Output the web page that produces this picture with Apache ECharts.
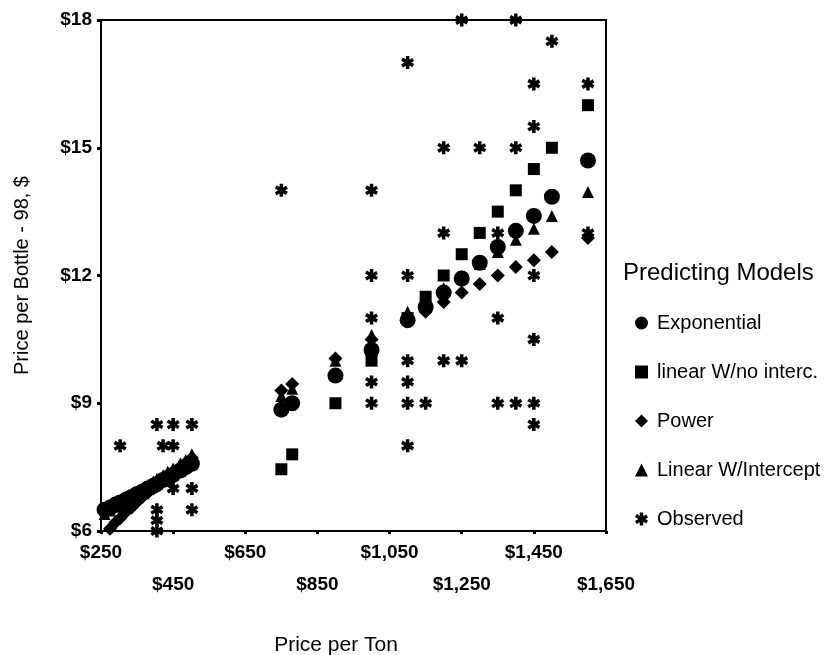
<!DOCTYPE html>
<html>
<head>
<meta charset="utf-8">
<script src="https://cdn.jsdelivr.net/npm/echarts@6/dist/echarts.min.js"></script>
<style>html,body{margin:0;padding:0;background:#fff;}#c{width:826px;height:655px;}</style>
</head>
<body>
<div id="c"></div>
<script>
// ---- data ----
const xTicks = [250, 450, 650, 850, 1050, 1250, 1450, 1650];
const yTicks = [6, 9, 12, 15, 18];

const modelX = [260, 275, 290, 303, 320, 335, 350, 365, 380, 395, 405, 422, 435, 450, 470, 485, 502,
  750, 780, 900, 1000, 1100, 1150, 1200, 1250, 1300, 1350, 1400, 1450, 1500, 1600];
const expY = [6.5, 6.55, 6.62, 6.67, 6.74, 6.8, 6.87, 6.93, 7.0, 7.06, 7.1, 7.2, 7.25, 7.32, 7.42, 7.5, 7.58,
  8.85, 9.0, 9.65, 10.25, 10.95, 11.26, 11.6, 11.93, 12.3, 12.67, 13.05, 13.4, 13.85, 14.7];
const powY = [5.95, 6.05, 6.2, 6.3, 6.45, 6.55, 6.68, 6.8, 6.9, 7.0, 7.07, 7.2, 7.28, 7.38, 7.5, 7.6, 7.72,
  9.3, 9.45, 10.05, 10.5, 10.95, 11.15, 11.38, 11.6, 11.8, 12.0, 12.2, 12.36, 12.55, 12.88];
const linIntY = [6.4, 6.48, 6.57, 6.64, 6.74, 6.82, 6.9, 6.99, 7.08, 7.16, 7.22, 7.31, 7.39, 7.47, 7.59, 7.67, 7.8,
  9.17, 9.34, 10.0, 10.6, 11.15, 11.43, 11.7, 11.99, 12.27, 12.55, 12.84, 13.1, 13.4, 13.96];
const linNoX = [750, 780, 900, 1000, 1100, 1150, 1200, 1250, 1300, 1350, 1400, 1450, 1500, 1600];
const linNoY = [7.45, 7.8, 9.0, 10.0, 11.0, 11.5, 12.0, 12.5, 13.0, 13.5, 14.0, 14.5, 15.0, 16.0];

const obsX = [303, 405, 450, 502, 422, 450, 450, 502, 502, 405, 405, 405,
  750, 1000, 1000, 1000, 1000, 1000, 1100, 1100, 1100, 1100, 1100, 1100, 1150,
  1200, 1200, 1200, 1250, 1250, 1300, 1350, 1350, 1350, 1400, 1400, 1400,
  1450, 1450, 1450, 1450, 1450, 1450, 1500, 1600, 1600];
const obsY = [8, 8.5, 8.5, 8.5, 8, 8, 7, 7, 6.5, 6.5, 6.25, 6.0,
  14, 14, 12, 11, 9.5, 9, 17, 12, 10, 9.5, 9, 8, 9,
  15, 13, 10, 18, 10, 15, 13, 11, 9, 18, 15, 9,
  16.5, 15.5, 12, 10.5, 9, 8.5, 17.5, 16.5, 13];

const seriesNames = ['Exponential', 'linear W/no interc.', 'Power', 'Linear W/Intercept', 'Observed'];

// ---- chart ----
const zip = (xs, ys) => xs.map((x, i) => [x, ys[i]]);
const star = 'path://M7.3,0L7.3,20L12.7,20L12.7,0Z M0,7.0L17.3,17.0L20,12.3L2.7,2.3Z M2.7,17.7L20,7.7L17.3,3.0L0,13.0Z';
const FONT = '"Liberation Sans", Arial, sans-serif';

const chart = echarts.init(document.getElementById('c'), null, {renderer: 'canvas'});
const sc = (name, data, symbol, size) => ({
  name, type: 'scatter', data, symbol, symbolSize: size,
  itemStyle: {color: '#000', opacity: 1}, clip: true,
  emphasis: {disabled: true}
});
chart.setOption({
  animation: false,
  backgroundColor: '#fff',
  grid: {left: 101, top: 20, right: 220, bottom: 124, show: true, borderColor: '#000', borderWidth: 2,
    backgroundColor: 'transparent', outerBoundsMode: 'none', containLabel: false},
  title: {text: 'Predicting Models', left: 623, top: 261, padding: 0,
    textStyle: {fontFamily: FONT, fontSize: 24, fontWeight: 'normal', color: '#000'}},
  legend: {
    orient: 'vertical', left: 635, top: 313, itemGap: 29, itemWidth: 13, itemHeight: 13, padding: 0,
    data: seriesNames,
    textStyle: {fontFamily: FONT, fontSize: 20, color: '#000', padding: [0, 0, 0, 4]}
  },
  xAxis: {
    type: 'value', min: 250, max: 1650, interval: 200,
    name: 'Price per Ton', nameLocation: 'middle', nameGap: 104,
    nameTextStyle: {fontFamily: FONT, fontSize: 21, color: '#000', padding: [0, 35, 0, 0]},
    axisLine: {show: true, lineStyle: {color: '#000', width: 2}},
    axisTick: {show: true, length: 3, lineStyle: {color: '#000', width: 3}, customValues: xTicks},
    splitLine: {show: false},
    axisLabel: {
      customValues: xTicks,
      margin: 6, fontFamily: FONT, fontSize: 19, fontWeight: 'bold', color: '#000', lineHeight: 32,
      formatter: (v) => {
        const i = xTicks.indexOf(Math.round(v));
        const s = '$' + Math.round(v).toLocaleString('en-US');
        return i % 2 === 1 ? '\n' + s : s;
      }
    }
  },
  yAxis: {
    type: 'value', min: 6, max: 18, interval: 3,
    name: 'Price per Bottle - 98, $', nameLocation: 'middle', nameGap: 69,
    nameTextStyle: {fontFamily: FONT, fontSize: 20, color: '#000'},
    axisLine: {show: true, lineStyle: {color: '#000', width: 2}},
    axisTick: {show: true, length: 4, lineStyle: {color: '#000', width: 3}},
    splitLine: {show: false},
    axisLabel: {margin: 9, fontFamily: FONT, fontSize: 19, fontWeight: 'bold', color: '#000',
      formatter: (v) => '$' + v}
  },
  series: [
    sc(seriesNames[0], zip(modelX, expY), 'circle', 16),
    sc(seriesNames[1], zip(linNoX, linNoY), 'rect', 12),
    sc(seriesNames[2], zip(modelX, powY), 'diamond', 14),
    sc(seriesNames[3], zip(modelX, linIntY), 'triangle', 12),
    sc(seriesNames[4], zip(obsX, obsY), star, 13)
  ]
});
</script>
</body>
</html>
